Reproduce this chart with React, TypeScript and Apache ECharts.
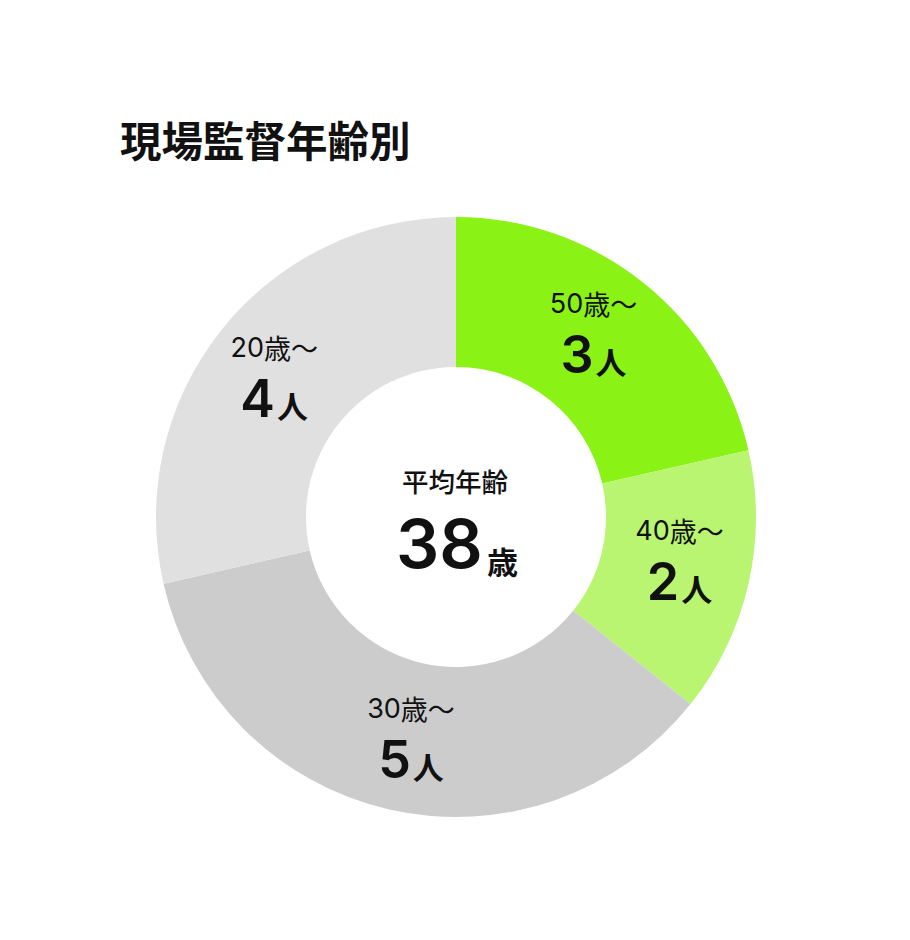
import React, { useEffect, useRef } from "react";
import * as echarts from "echarts";

const categories = ["50歳〜", "40歳〜", "30歳〜", "20歳〜"];
const counts = [3, 2, 5, 4];
const colors = ["#8af315", "#b9f571", "#cccccc", "#e0e0e0"];
const titleText = "現場監督年齢別";
const centerCaption = "平均年齢";
const averageAge = 38;
const ageUnit = "歳";
const countUnit = "人";

const CJK = '"Noto Sans CJK JP", "Noto Sans", sans-serif';
const NUM = 'Inter, "Noto Sans CJK JP", sans-serif';

const LABEL_R = 224;
const LABEL_SHIFT_DEG = 1.5;

export default function App() {
  const ref = useRef<HTMLDivElement>(null);
  useEffect(() => {
    if (!ref.current) return;
    const chart = echarts.init(ref.current, null, { renderer: "svg" });
    const total = counts.reduce((s, v) => s + v, 0);
    let acc = 0;
    const shifts = counts.map((v) => {
      const mid = ((acc + v / 2) / total) * 2 * Math.PI;
      acc += v;
      const moved = mid - (LABEL_SHIFT_DEG * Math.PI) / 180;
      return [
        LABEL_R * (Math.sin(moved) - Math.sin(mid)),
        -LABEL_R * (Math.cos(moved) - Math.cos(mid)) - 2,
      ];
    });
    chart.setOption({
      animation: false,
      backgroundColor: "#ffffff",
      textStyle: { fontFamily: CJK },
      title: {
        text: titleText,
        left: 115,
        top: 113,
        textStyle: { fontFamily: CJK, fontSize: 41.5, fontWeight: "bold", color: "#111111" },
      },
      graphic: [
        {
          type: "text",
          x: 455,
          y: 480,
          style: {
            text: centerCaption,
            fontFamily: CJK,
            fontSize: 26.5,
            fontWeight: 500,
            fill: "#111111",
            align: "center",
            verticalAlign: "middle",
          },
        },
        {
          type: "text",
          x: 457,
          y: 543,
          style: {
            text: "{n|" + averageAge + "}{u|" + ageUnit + "}",
            align: "center",
            verticalAlign: "middle",
            rich: {
              n: { fontFamily: NUM, fontSize: 68, fontWeight: 600, fill: "#111111", lineHeight: 80, verticalAlign: "middle" },
              u: { fontFamily: CJK, fontSize: 31, fontWeight: "bold", fill: "#111111", lineHeight: 80, verticalAlign: "middle", padding: [34, 0, 0, 4] },
            },
          },
        },
      ],
      series: [
        {
          type: "pie",
          center: [456, 517],
          radius: [150, 300],
          startAngle: 90,
          clockwise: true,
          avoidLabelOverlap: false,
          label: {
            show: true,
            position: "inside",
            formatter: (p: any) => {
              const m = String(p.name).match(/^(\d+)(.*)$/);
              const num = m ? m[1] : "";
              const rest = m ? m[2] : p.name;
              return "{a|" + num + "}{a2|" + rest + "}\n{b|" + p.value + "}{c|" + countUnit + "}";
            },
            rich: {
              a: { fontFamily: NUM, fontSize: 27, fontWeight: 400, color: "#111111", lineHeight: 42 },
              a2: { fontFamily: CJK, fontSize: 27, fontWeight: 400, color: "#111111", lineHeight: 42 },
              b: { fontFamily: NUM, fontSize: 52, fontWeight: 600, color: "#111111", lineHeight: 60 },
              c: { fontFamily: CJK, fontSize: 31, fontWeight: "bold", color: "#111111", lineHeight: 60, padding: [12, 0, 0, 2] },
            },
          },
          labelLayout: (p: any) => ({ dx: shifts[p.dataIndex][0], dy: shifts[p.dataIndex][1] }),
          labelLine: { show: false },
          itemStyle: { borderWidth: 0 },
          emphasis: { disabled: true },
          data: categories.map((c, i) => ({ name: c, value: counts[i], itemStyle: { color: colors[i] } })),
        },
      ],
    });
    return () => chart.dispose();
  }, []);
  return <div ref={ref} style={{ position: "absolute", left: 0, top: 0, width: 910, height: 940 }} />;
}
